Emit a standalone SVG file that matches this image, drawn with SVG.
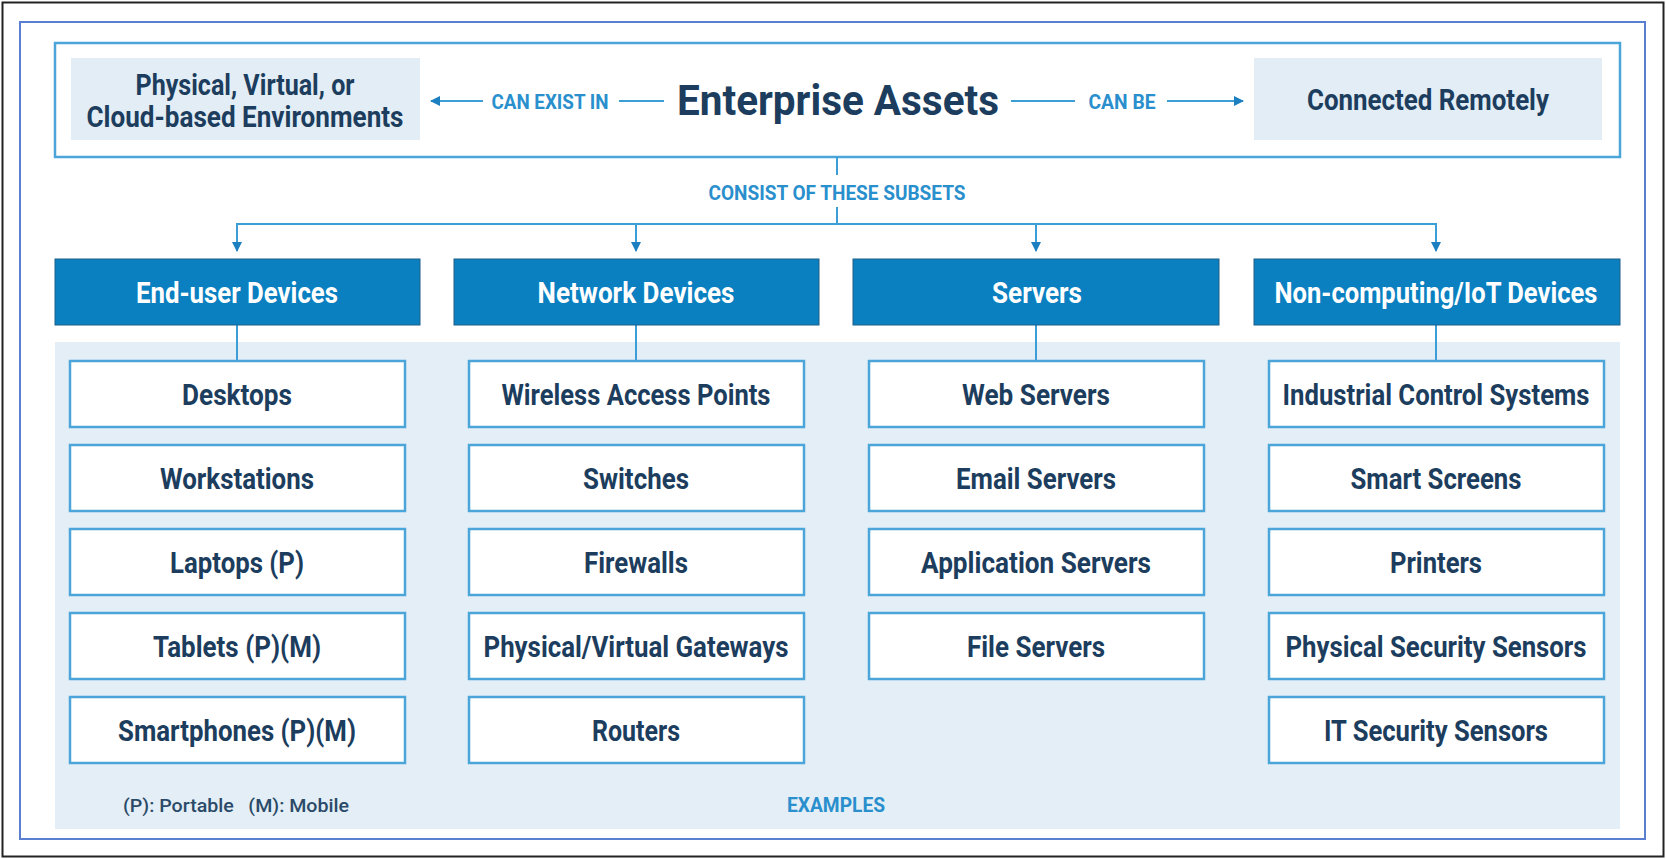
<svg xmlns="http://www.w3.org/2000/svg" width="1666" height="859" viewBox="0 0 1666 859">
  <style>
    text { font-family: Roboto, "Liberation Sans", Arial, sans-serif; font-weight: 700; text-anchor: middle; }
    .dark { fill: #1c3d5d; }
    .note { fill: #2a4a68; font-weight: 500; }
    .lbl { fill: #2a8fcd; font-size: 20px; }
    .item rect { fill: #ffffff; stroke: #4ba5d9; stroke-width: 2.5; }
    .item text { fill: #1c3d5d; font-size: 30px; }
    .head rect { fill: #0a80c1; stroke: #1f5f88; stroke-width: 1; }
    .head text { fill: #ffffff; font-size: 30px; }
    .env rect { fill: #e2edf5; }
    .env text { fill: #1c3d5d; font-size: 30px; }
    .wire { stroke: #3c9ed6; stroke-width: 2; fill: none; }
  </style>
  <defs>
    <marker id="tip" viewBox="0 0 10 10" refX="9" refY="5" markerWidth="10" markerHeight="10" markerUnits="userSpaceOnUse" orient="auto">
      <path d="M0,0 L10,5 L0,10 Z" fill="#1b7fc0"/>
    </marker>
  </defs>

  <!-- frames -->
  <rect x="2.5" y="2.5" width="1661" height="854" fill="#ffffff" stroke="#222222" stroke-width="2"/>
  <rect x="20" y="22" width="1625" height="817" fill="none" stroke="#5b7fd0" stroke-width="2"/>

  <!-- top band -->
  <rect x="55" y="43" width="1565" height="114" fill="#ffffff" stroke="#4ba5d9" stroke-width="2.5"/>
  <!-- examples panel -->
  <rect x="55" y="342" width="1565" height="487" fill="#e4eef6"/>

  <g id="environments" class="env">
    <rect x="71" y="58" width="349" height="82"/>
    <text x="245" y="95" textLength="219" lengthAdjust="spacingAndGlyphs">Physical, Virtual, or</text>
    <text x="245" y="127" textLength="317" lengthAdjust="spacingAndGlyphs">Cloud-based Environments</text>
  </g>
  <g id="enterprise-assets">
    <text class="dark" x="838" y="115" font-size="42" textLength="322" lengthAdjust="spacingAndGlyphs">Enterprise Assets</text>
  </g>
  <g id="remote" class="env">
    <rect x="1254" y="58" width="348" height="82"/>
    <text x="1428" y="110" textLength="242" lengthAdjust="spacingAndGlyphs">Connected Remotely</text>
  </g>

  <!-- connectors -->
  <g id="connectors">
    <line class="wire" x1="483" y1="101" x2="431" y2="101" marker-end="url(#tip)"/>
    <line class="wire" x1="619" y1="101" x2="664" y2="101"/>
    <line class="wire" x1="1011" y1="101" x2="1075" y2="101"/>
    <line class="wire" x1="1167" y1="101" x2="1243" y2="101" marker-end="url(#tip)"/>
    <line class="wire" x1="837" y1="157" x2="837" y2="175"/>
    <line class="wire" x1="837" y1="207" x2="837" y2="224"/>
    <polyline class="wire" points="237,250 237,224 1436,224 1436,250"/>
    <line class="wire" x1="237" y1="224" x2="237" y2="251" marker-end="url(#tip)"/>
    <line class="wire" x1="636" y1="224" x2="636" y2="251" marker-end="url(#tip)"/>
    <line class="wire" x1="1036" y1="224" x2="1036" y2="251" marker-end="url(#tip)"/>
    <line class="wire" x1="1436" y1="224" x2="1436" y2="251" marker-end="url(#tip)"/>
    <line class="wire" x1="237" y1="325" x2="237" y2="361"/>
    <line class="wire" x1="636" y1="325" x2="636" y2="361"/>
    <line class="wire" x1="1036" y1="325" x2="1036" y2="361"/>
    <line class="wire" x1="1436" y1="325" x2="1436" y2="361"/>
  </g>

  <!-- connector labels -->
  <g id="labels">
    <text class="lbl" x="550" y="109" textLength="117" lengthAdjust="spacingAndGlyphs">CAN EXIST IN</text>
    <text class="lbl" x="1122" y="109" textLength="67" lengthAdjust="spacingAndGlyphs">CAN BE</text>
    <text class="lbl" x="837" y="200" textLength="257" lengthAdjust="spacingAndGlyphs">CONSIST OF THESE SUBSETS</text>
    <text class="lbl" x="836" y="812" textLength="98" lengthAdjust="spacingAndGlyphs">EXAMPLES</text>
    <text class="note" x="236" y="812" font-size="19" textLength="226" lengthAdjust="spacingAndGlyphs" xml:space="preserve">(P): Portable   (M): Mobile</text>
  </g>

  <!-- subset headers -->
  <g id="end-user-devices" class="head">
    <rect x="55" y="259" width="365" height="66"/>
    <text x="237" y="303" textLength="202" lengthAdjust="spacingAndGlyphs">End-user Devices</text>
  </g>
  <g id="network-devices" class="head">
    <rect x="454" y="259" width="365" height="66"/>
    <text x="636" y="303" textLength="197" lengthAdjust="spacingAndGlyphs">Network Devices</text>
  </g>
  <g id="servers" class="head">
    <rect x="853" y="259" width="366" height="66"/>
    <text x="1037" y="303" textLength="90" lengthAdjust="spacingAndGlyphs">Servers</text>
  </g>
  <g id="iot-devices" class="head">
    <rect x="1254" y="259" width="366" height="66"/>
    <text x="1436" y="303" textLength="323" lengthAdjust="spacingAndGlyphs">Non-computing/IoT Devices</text>
  </g>

  <!-- end-user examples -->
  <g id="desktops" class="item"><rect x="70" y="361" width="335" height="66"/><text x="237" y="405" textLength="110" lengthAdjust="spacingAndGlyphs">Desktops</text></g>
  <g id="workstations" class="item"><rect x="70" y="445" width="335" height="66"/><text x="237" y="489" textLength="154" lengthAdjust="spacingAndGlyphs">Workstations</text></g>
  <g id="laptops" class="item"><rect x="70" y="529" width="335" height="66"/><text x="237" y="573" textLength="134" lengthAdjust="spacingAndGlyphs">Laptops (P)</text></g>
  <g id="tablets" class="item"><rect x="70" y="613" width="335" height="66"/><text x="237" y="657" textLength="168" lengthAdjust="spacingAndGlyphs">Tablets (P)(M)</text></g>
  <g id="smartphones" class="item"><rect x="70" y="697" width="335" height="66"/><text x="237" y="741" textLength="238" lengthAdjust="spacingAndGlyphs">Smartphones (P)(M)</text></g>

  <!-- network examples -->
  <g id="wireless-access-points" class="item"><rect x="469" y="361" width="335" height="66"/><text x="636" y="405" textLength="269" lengthAdjust="spacingAndGlyphs">Wireless Access Points</text></g>
  <g id="switches" class="item"><rect x="469" y="445" width="335" height="66"/><text x="636" y="489" textLength="106" lengthAdjust="spacingAndGlyphs">Switches</text></g>
  <g id="firewalls" class="item"><rect x="469" y="529" width="335" height="66"/><text x="636" y="573" textLength="104" lengthAdjust="spacingAndGlyphs">Firewalls</text></g>
  <g id="gateways" class="item"><rect x="469" y="613" width="335" height="66"/><text x="636" y="657" textLength="305" lengthAdjust="spacingAndGlyphs">Physical/Virtual Gateways</text></g>
  <g id="routers" class="item"><rect x="469" y="697" width="335" height="66"/><text x="636" y="741" textLength="88" lengthAdjust="spacingAndGlyphs">Routers</text></g>

  <!-- server examples -->
  <g id="web-servers" class="item"><rect x="869" y="361" width="335" height="66"/><text x="1036" y="405" textLength="148" lengthAdjust="spacingAndGlyphs">Web Servers</text></g>
  <g id="email-servers" class="item"><rect x="869" y="445" width="335" height="66"/><text x="1036" y="489" textLength="160" lengthAdjust="spacingAndGlyphs">Email Servers</text></g>
  <g id="application-servers" class="item"><rect x="869" y="529" width="335" height="66"/><text x="1036" y="573" textLength="230" lengthAdjust="spacingAndGlyphs">Application Servers</text></g>
  <g id="file-servers" class="item"><rect x="869" y="613" width="335" height="66"/><text x="1036" y="657" textLength="138" lengthAdjust="spacingAndGlyphs">File Servers</text></g>

  <!-- iot examples -->
  <g id="ics" class="item"><rect x="1269" y="361" width="335" height="66"/><text x="1436" y="405" textLength="307" lengthAdjust="spacingAndGlyphs">Industrial Control Systems</text></g>
  <g id="smart-screens" class="item"><rect x="1269" y="445" width="335" height="66"/><text x="1436" y="489" textLength="171" lengthAdjust="spacingAndGlyphs">Smart Screens</text></g>
  <g id="printers" class="item"><rect x="1269" y="529" width="335" height="66"/><text x="1436" y="573" textLength="92" lengthAdjust="spacingAndGlyphs">Printers</text></g>
  <g id="physical-sensors" class="item"><rect x="1269" y="613" width="335" height="66"/><text x="1436" y="657" textLength="301" lengthAdjust="spacingAndGlyphs">Physical Security Sensors</text></g>
  <g id="it-sensors" class="item"><rect x="1269" y="697" width="335" height="66"/><text x="1436" y="741" textLength="224" lengthAdjust="spacingAndGlyphs">IT Security Sensors</text></g>
</svg>
